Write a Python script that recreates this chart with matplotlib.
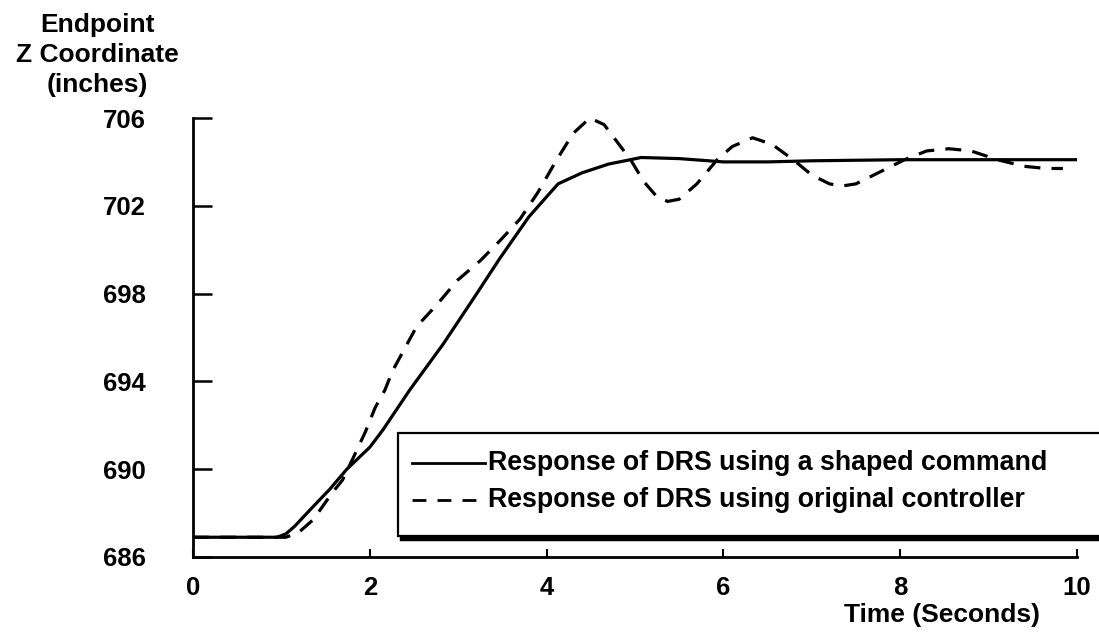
import matplotlib
matplotlib.use("Agg")
import matplotlib.pyplot as plt
from matplotlib.patches import Rectangle
from matplotlib.lines import Line2D

plt.rcParams['font.family'] = ['Liberation Sans', 'DejaVu Sans']

# ---- data ----
t_shaped = [0, 0.95, 1.05, 1.15, 1.36, 1.55, 1.74, 2.0, 2.15, 2.45, 2.83, 3.21,
            3.47, 3.8, 4.13, 4.4, 4.7, 5.07, 5.5, 6.0, 6.5, 7.0, 8.0, 9.0, 10.0]
z_shaped = [686.9, 686.9, 687.05, 687.4, 688.3, 689.1, 690.0, 691.0, 691.8, 693.6,
            695.7, 698.0, 699.6, 701.5, 703.0, 703.5, 703.9, 704.2, 704.15, 704.0,
            704.0, 704.05, 704.1, 704.1, 704.1]

t_orig = [0, 1.05, 1.19, 1.36, 1.57, 1.69, 1.81, 1.95, 2.06, 2.17, 2.26, 2.53,
          2.76, 2.99, 3.25, 3.47, 3.7, 3.9, 4.1, 4.3, 4.49, 4.65, 4.8, 4.95, 5.1,
          5.25, 5.37, 5.5, 5.7, 5.93, 6.1, 6.33, 6.55, 6.79, 7.0, 7.2, 7.34, 7.5,
          7.75, 8.05, 8.3, 8.55, 8.8, 9.1, 9.4, 9.65, 9.84]
z_orig = [686.9, 686.9, 687.1, 687.7, 688.9, 689.5, 690.5, 691.7, 692.8, 693.6,
          694.5, 696.5, 697.5, 698.6, 699.5, 700.4, 701.4, 702.6, 704.0, 705.3,
          706.0, 705.7, 704.9, 704.1, 703.1, 702.4, 702.2, 702.3, 703.0, 704.1,
          704.7, 705.1, 704.8, 704.1, 703.4, 703.0, 702.9, 703.0, 703.5, 704.1,
          704.5, 704.6, 704.5, 704.1, 703.8, 703.7, 703.7]

x_ticks = [0, 2, 4, 6, 8, 10]
y_ticks = [686, 690, 694, 698, 702, 706]
legend_labels = ["Response of DRS using a shaped command",
                 "Response of DRS using original controller"]
y_title = "Endpoint\nZ Coordinate\n(inches)"
x_title = "Time (Seconds)"

W, H = 1099, 632
fig = plt.figure(figsize=(W / 100, H / 100), dpi=100)
ax = fig.add_axes([193 / W, 75 / H, 884 / W, 439 / H])
ax.set_xlim(0, 10)
ax.set_ylim(686, 706)

ax.plot(t_shaped, z_shaped, color='black', lw=2.3, solid_capstyle='round')
ax.plot(t_orig, z_orig, color='black', lw=2.3, linestyle=(0, (5, 3.5)))

for s in ['top', 'right']:
    ax.spines[s].set_visible(False)
for s in ['left', 'bottom']:
    ax.spines[s].set_linewidth(2.0)

ax.set_xticks(x_ticks)
ax.set_xticklabels([str(v) for v in x_ticks], fontweight='bold')
ax.set_yticks(y_ticks)
ax.set_yticklabels([str(v) for v in y_ticks], fontweight='bold')
ax.tick_params(axis='y', direction='in', length=13.5, width=1.8, pad=34, labelsize=18.5)
ax.tick_params(axis='x', direction='in', length=6, width=1.5, pad=14, labelsize=18.5)

fig.text(97 / W, 1 - 55 / H, y_title, ha='center', va='center', fontsize=19,
         fontweight='bold', linespacing=1.3)
fig.text(1040 / W, 1 - 615 / H, x_title, ha='right', va='center', fontsize=19,
         fontweight='bold')

# legend box (extends past right edge, like the reference)
def ax_x(px):
    return (px - 193) / 884

def ax_y(py):
    return (557 - py) / 439

box = Rectangle((ax_x(398), ax_y(536)), ax_x(1110) - ax_x(398), ax_y(433) - ax_y(536),
                transform=ax.transAxes, facecolor='white', edgecolor='black',
                lw=1.6, clip_on=False, zorder=5)
ax.add_patch(box)
ax.add_line(Line2D([ax_x(402), ax_x(1110)], [ax_y(538.5), ax_y(538.5)],
                   transform=ax.transAxes, color='black', lw=3.2, clip_on=False, zorder=6))

styles = ['-', (0, (5, 4))]
rows = [463, 500]
for lab, st, py in zip(legend_labels, styles, rows):
    ax.add_line(Line2D([ax_x(412), ax_x(485)], [ax_y(py), ax_y(py)], transform=ax.transAxes,
                       color='black', lw=2.0, linestyle=st, clip_on=False, zorder=6))
    ax.text(ax_x(488), ax_y(py), lab, transform=ax.transAxes, ha='left', va='center',
            fontsize=19.3, fontweight='bold', zorder=7, clip_on=False)

fig.savefig('out.png', dpi=100)
